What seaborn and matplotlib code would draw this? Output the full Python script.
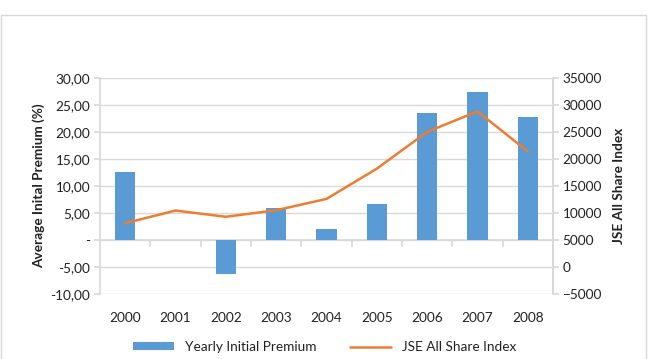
import matplotlib
matplotlib.use("Agg")
import matplotlib.pyplot as plt
import seaborn as sns
import pandas as pd
from matplotlib.ticker import FuncFormatter, FixedLocator
from matplotlib.patches import Rectangle

years = ["2000", "2001", "2002", "2003", "2004", "2005", "2006", "2007", "2008"]
premium = [12.6, 0.0, -6.35, 5.9, 2.0, 6.7, 23.5, 27.4, 22.8]
jse_index = [8100, 10450, 9300, 10500, 12600, 18200, 25000, 28800, 21400]

bar_label = "Yearly Initial Premium"
line_label = "JSE All Share Index"

df = pd.DataFrame({"year": years, "premium": premium, "jse": jse_index})

sns.set_theme(style="white")
plt.rcParams["font.family"] = ["Lato", "DejaVu Sans"]

fs = 9.8
fig = plt.figure(figsize=(6.49, 3.59), dpi=100)
fig.patches.append(Rectangle((0.002, -0.01), 0.993, 0.968, transform=fig.transFigure,
                             fill=False, edgecolor="#D9D9D9", linewidth=1.0))
ax = fig.add_axes([0.154, 0.181, 0.698, 0.602])

grid_c = "#D9D9D9"
sns.barplot(data=df, x="year", y="premium", color="#5B9BD5", width=0.4,
            saturation=1, ax=ax, label=bar_label, zorder=3, linewidth=0)
ax.set_ylim(-10, 30)
ax.set_yticks(range(-10, 31, 5))
ax.yaxis.set_major_formatter(FuncFormatter(lambda v, p: "-" if v == 0 else f"{v:.2f}".replace(".", ",")))
ax.grid(axis="y", color=grid_c, linewidth=1.0, zorder=0)
ax.set_axisbelow(True)
for s in ["top", "bottom"]:
    ax.spines[s].set_visible(False)
ax.spines["left"].set_color(grid_c)
ax.spines["right"].set_color(grid_c)
ax.tick_params(axis="y", length=4, color=grid_c, labelsize=fs, labelcolor="#222222", pad=3)
ax.tick_params(axis="x", length=0, labelsize=fs, labelcolor="#222222", pad=13)
ax.set_xlabel("")
ax.set_ylabel("Average Inital Premium (%)", fontsize=fs, fontweight="bold", color="#222222", labelpad=4)
ax.set_xlim(-0.5, len(years) - 0.5)

# category tick marks on the zero line
sec = ax.secondary_xaxis(0.25)
sec.xaxis.set_major_locator(FixedLocator([i + 0.5 for i in range(len(years) - 1)]))
sec.tick_params(axis="x", length=5, color=grid_c, labelbottom=False, direction="out")
sec.spines["bottom"].set_color(grid_c)

ax2 = ax.twinx()
sns.lineplot(x=list(range(len(years))), y=jse_index, color="#ED7D31", linewidth=1.8,
             ax=ax2, label=line_label, zorder=4)
ax2.set_ylim(-5000, 35000)
ax2.set_yticks(range(-5000, 35001, 5000))
for s in ["top", "bottom", "left"]:
    ax2.spines[s].set_visible(False)
ax2.spines["right"].set_color(grid_c)
ax2.tick_params(axis="y", length=4, color=grid_c, labelsize=fs, labelcolor="#222222", pad=3)
ax2.set_ylabel("JSE All Share Index", fontsize=fs, fontweight="bold", color="#222222", labelpad=8)
ax2.set_xlim(-0.5, len(years) - 0.5)

h1, l1 = ax.get_legend_handles_labels()
h2, l2 = ax2.get_legend_handles_labels()
if ax.get_legend():
    ax.get_legend().remove()
if ax2.get_legend():
    ax2.get_legend().remove()
fig.legend(h1 + h2, l1 + l2, loc="center", bbox_to_anchor=(0.5, 0.033), ncol=2, frameon=False,
           fontsize=fs, handlelength=3.0, handleheight=0.5, columnspacing=2.5, labelcolor="#222222")

fig.savefig("out.png", dpi=100)
